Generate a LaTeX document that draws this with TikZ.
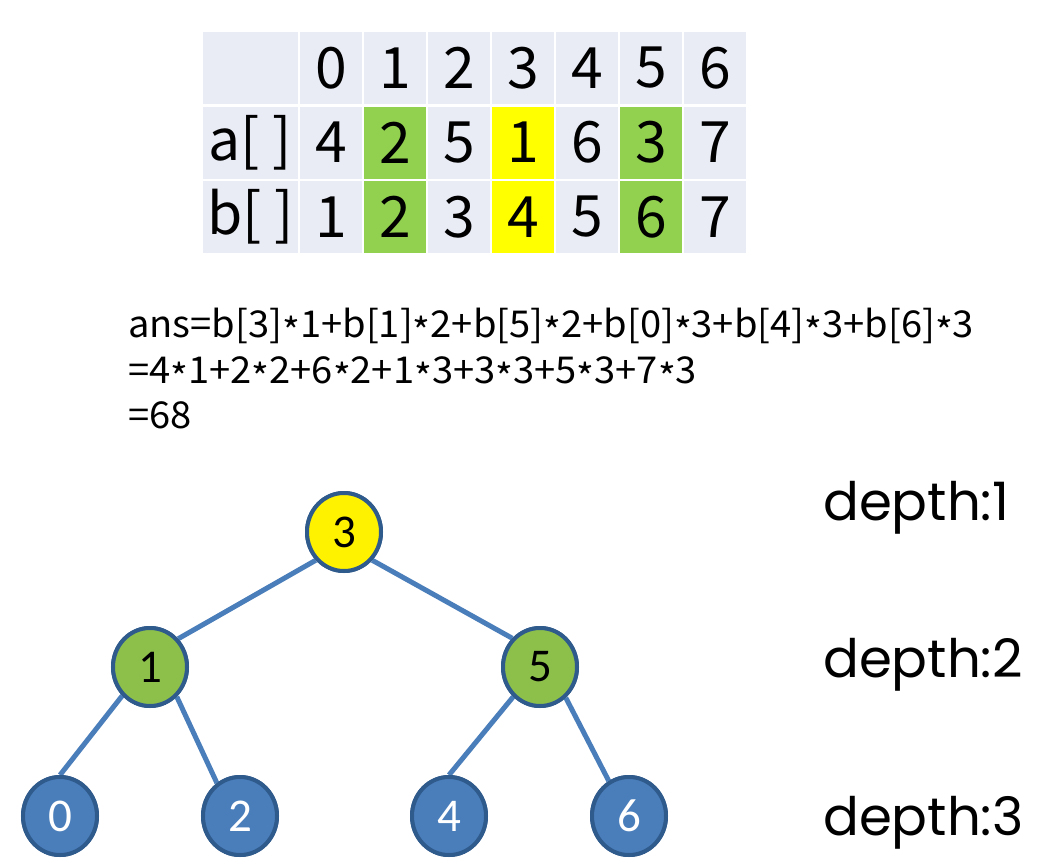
\documentclass[tikz,border=0pt]{standalone}
\usepackage{fontspec}
\usepackage{graphicx}
\setmainfont{Noto Sans CJK SC}
\newfontfamily\nodefont{Carlito}
\newfontfamily\depthfont{Poppins}
\usetikzlibrary{shapes.geometric}
\definecolor{cellbg}{HTML}{E9EBF5}
\definecolor{cellgreen}{HTML}{92D050}
\definecolor{cellyellow}{HTML}{FFFF00}
\definecolor{treeyellow}{HTML}{FFF200}
\definecolor{treegreen}{HTML}{8DC04B}
\definecolor{treeblue}{HTML}{4A7EBB}
\definecolor{treeborder}{HTML}{2F5A8C}
\definecolor{edgeblue}{HTML}{4A7EBB}
\newcommand{\stx}{\raisebox{-0.22em}{*}}
\tikzset{
  cell/.style={fill=cellbg, minimum width=62pt, minimum height=72pt, inner sep=0pt, outer sep=0pt,
    font=\fontsize{57}{57}\selectfont, anchor=center},
  labelcell/.style={cell, minimum width=95pt},
  tnode/.style={ellipse, draw=treeborder, line width=4pt, minimum width=74pt, minimum height=78pt,
    inner sep=0pt, font=\nodefont\fontsize{47}{47}\selectfont},
  leaf/.style={tnode, fill=treeblue, text=white},
  edge/.style={draw=edgeblue, line width=5pt},
  depthlabel/.style={anchor=base west, inner sep=0pt, font=\depthfont\fontsize{53}{53}\selectfont},
  eqline/.style={anchor=base west, inner sep=0pt}
}
\begin{document}
\begin{tikzpicture}[x=1pt, y=-1pt]
\useasboundingbox[fill=white] (0,0) rectangle (1053,865);
% table
\node[labelcell] (hl) at (250.5,68) {};
\node[labelcell] (al) at (250.5,142.5) {a[ ]};
\node[labelcell] (bl) at (250.5,217) {b[ ]};
\foreach \i/\h/\a/\b/\c in {0/0/4/1/cellbg,1/1/2/2/cellgreen,2/2/5/3/cellbg,3/3/1/4/cellyellow,4/4/6/5/cellbg,5/5/3/6/cellgreen,6/6/7/7/cellbg}{
  \node[cell] (h\i) at (331+64*\i,68) {\h};
  \node[cell, fill=\c] (a\i) at (331+64*\i,142.5) {\a};
  \node[cell, fill=\c] (b\i) at (331+64*\i,217) {\b};
}
% equation
\node[eqline] (eq1) at (128,337) {\scalebox{1.03}[1]{\fontsize{37}{37}\selectfont ans=b[3]\stx1+b[1]\stx2+b[5]\stx2+b[0]\stx3+b[4]\stx3+b[6]\stx3}};
\node[eqline] (eq2) at (128,383) {\scalebox{1.03}[1]{\fontsize{37}{37}\selectfont =4\stx1+2\stx2+6\stx2+1\stx3+3\stx3+5\stx3+7\stx3}};
\node[eqline] (eq3) at (128,428) {\scalebox{1.03}[1]{\fontsize{37}{37}\selectfont =68}};
% tree
\node[tnode, fill=treeyellow] (t3) at (344,532) {3};
\node[tnode, fill=treegreen] (t1) at (150,667) {1};
\node[tnode, fill=treegreen] (t5) at (540,667) {5};
\node[leaf] (t0) at (60,816) {0};
\node[leaf] (t2) at (240,816) {2};
\node[leaf] (t4) at (449,816) {4};
\node[leaf] (t6) at (629,816) {6};
\draw[edge] (t3.-135) -- (t1.45);
\draw[edge] (t3.-45) -- (t5.134);
\draw[edge] (t1.-134) -- (t0.90);
\draw[edge] (t1.-48) -- (t2.125);
\draw[edge] (t5.-132) -- (t4.90);
\draw[edge] (t5.-50) -- (t6.120);
% nodes again, on top of the edge ends
\node[tnode, fill=treeyellow] at (t3) {3};
\node[tnode, fill=treegreen] at (t1) {1};
\node[tnode, fill=treegreen] at (t5) {5};
\node[leaf] at (t0) {0};
\node[leaf] at (t2) {2};
\node[leaf] at (t4) {4};
\node[leaf] at (t6) {6};
% depth labels
\node[depthlabel] (d1) at (823,520) {depth:1};
\node[depthlabel] (d2) at (823,677) {depth:2};
\node[depthlabel] (d3) at (823,835) {depth:3};
\end{tikzpicture}
\end{document}
